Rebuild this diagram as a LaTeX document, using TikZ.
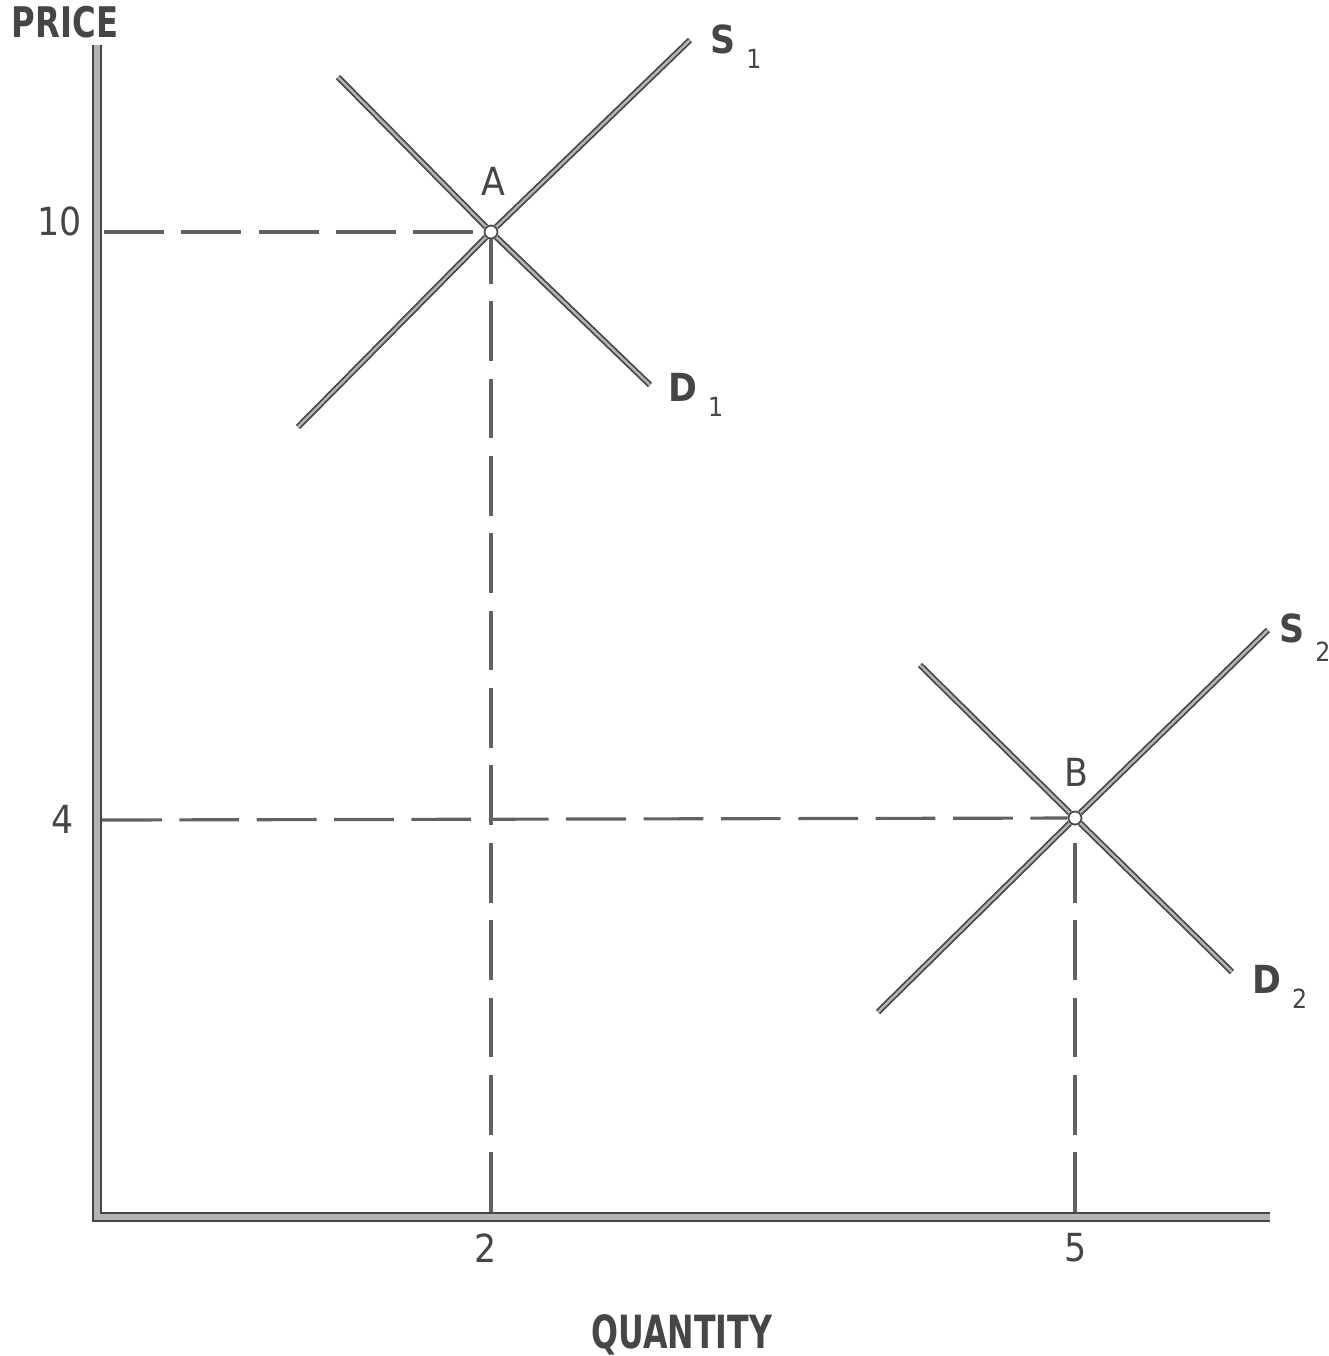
\documentclass[tikz,border=0pt]{standalone}
\usepackage{fontspec}
\setmainfont{DejaVu Sans Condensed}
\usetikzlibrary{positioning}
\definecolor{inkcolor}{RGB}{70,70,70}
\definecolor{bandcolor}{RGB}{180,180,180}
\begin{document}
\begin{tikzpicture}[
    x=0.01cm, y=-0.01cm,
    axisline/.style={
      draw=inkcolor, line width=0.7pt,
      double=bandcolor, double distance=1.7pt
    },
    curveline/.style={
      draw=inkcolor, line width=0.5pt,
      double=bandcolor, double distance=0.7pt
    },
    guideline/.style={
      draw=inkcolor!85, line width=0.9pt,
      dash pattern=on 17pt off 5pt
    },
    eqpoint/.style={
      circle, draw=inkcolor, fill=white, line width=0.5pt,
      minimum size=0.13cm, inner sep=0pt
    },
    axislabel/.style={font=\bfseries\fontsize{12}{14}\selectfont, text=inkcolor},
    ticklabel/.style={font=\fontsize{11}{13}\selectfont, text=inkcolor},
    curvelabel/.style={font=\bfseries\fontsize{11}{13}\selectfont, text=inkcolor, inner sep=0pt}
  ]
    \useasboundingbox (0,0) rectangle (1329,1356);

    % Axes
    \coordinate (ytop) at (97,45);
    \coordinate (orig) at (97,1217);
    \coordinate (xend) at (1270,1217);
    \draw[axisline] (ytop) -- (orig) -- (xend);
    \node[axislabel] (price) at (65,22) {\scalebox{0.85}[1]{PRICE}};
    \node[axislabel, font=\bfseries\fontsize{13}{15}\selectfont] (quantity) at (682,1335) {\scalebox{0.77}[1]{QUANTITY}};

    % Equilibrium points
    \node[eqpoint] (ptA) at (491,232) {};
    \node[eqpoint] (ptB) at (1075,818) {};
    \node[ticklabel] (lblA) at (493,181) {A};
    \node[ticklabel] (lblB) at (1076,772) {B};

    % Curve ends
    \coordinate (s1lo) at (298,427);
    \coordinate (s1hi) at (690,40);
    \coordinate (d1hi) at (338,77);
    \coordinate (d1lo) at (650,385);
    \coordinate (s2lo) at (878,1012);
    \coordinate (s2hi) at (1268,630);
    \coordinate (d2hi) at (920,665);
    \coordinate (d2lo) at (1232,972);

    % Supply and demand
    \draw[curveline] (s1lo) -- (ptA) -- (s1hi);
    \draw[curveline] (d1hi) -- (ptA) -- (d1lo);
    \draw[curveline] (s2lo) -- (ptB) -- (s2hi);
    \draw[curveline] (d2hi) -- (ptB) -- (d2lo);

    \node[curvelabel, anchor=base west] (lblS1) at (710,53) {S\kern3pt\raisebox{-4.5pt}{\mdseries\fontsize{7.5}{8}\selectfont 1}};
    \node[curvelabel, anchor=base west] (lblD1) at (668,401) {D\kern3pt\raisebox{-4.5pt}{\mdseries\fontsize{7.5}{8}\selectfont 1}};
    \node[curvelabel, anchor=base west] (lblS2) at (1279,642) {S\kern3pt\raisebox{-5.5pt}{\mdseries\fontsize{7.5}{8}\selectfont 2}};
    \node[curvelabel, anchor=base west] (lblD2) at (1252,993) {D\kern3pt\raisebox{-4.5pt}{\mdseries\fontsize{7.5}{8}\selectfont 2}};

    % Ticks
    \node[ticklabel] (y10) at (60,221) {10};
    \node[ticklabel] (y4) at (63,819) {4};
    \node[ticklabel] (x2) at (486,1248) {2};
    \node[ticklabel] (x5) at (1076,1248) {5};
    \coordinate (ax10) at (104,232);
    \coordinate (ax4) at (102,820);
    \coordinate (ax2) at (491,1212);
    \coordinate (ax5) at (1075,1212);

    % Guides
    \draw[guideline] (ax10) -- (ptA);
    \draw[guideline] (ax2) -- (ptA);
    \draw[guideline] (ax4) -- (ptB);
    \draw[guideline] (ax5) -- (ptB);
\end{tikzpicture}
\end{document}
